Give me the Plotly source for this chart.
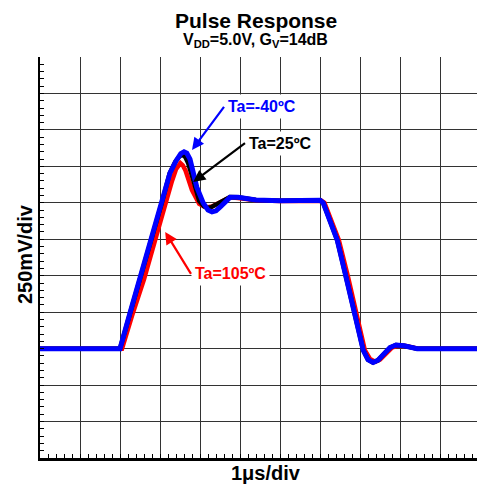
import plotly.graph_objects as go

# Time in divisions (1 µs/div), amplitude in divisions (250 mV/div)
x_m40 = [0, 2.0, 2.25, 2.52, 2.78, 3.05, 3.25, 3.4, 3.52, 3.6, 3.67, 3.75, 3.92, 4.08, 4.2, 4.3, 4.4, 4.5, 4.6, 4.75, 4.95, 5.4, 6.0, 6.5, 7.0, 7.08, 7.43, 7.65, 7.85, 8.08, 8.2, 8.33, 8.45, 8.6, 8.75, 8.9, 9.1, 9.43, 10.0, 11.0]
y_m40 = [3.0, 3.0, 3.98, 4.99, 5.98, 7.0, 7.82, 8.15, 8.35, 8.4, 8.36, 8.2, 7.43, 7.0, 6.8, 6.75, 6.78, 6.88, 7.0, 7.15, 7.15, 7.08, 7.06, 7.06, 7.07, 7.0, 5.98, 4.97, 3.98, 2.96, 2.7, 2.62, 2.68, 2.87, 3.03, 3.1, 3.08, 3.0, 3.0, 3.0]

x_25 = [0, 2.0, 2.25, 2.52, 2.78, 3.04, 3.24, 3.38, 3.49, 3.56, 3.63, 3.7, 3.83, 3.98, 4.1, 4.18, 4.28, 4.4, 4.55, 4.75, 4.95, 5.4, 6.0, 6.5, 7.0, 7.08, 7.43, 7.65, 7.85, 8.08, 8.2, 8.32, 8.45, 8.6, 8.75, 8.9, 9.1, 9.43, 10.0, 11.0]
y_25 = [3.0, 3.0, 3.96, 4.97, 5.96, 6.98, 7.8, 8.12, 8.28, 8.32, 8.26, 8.1, 7.63, 7.05, 6.9, 6.86, 6.88, 6.96, 7.05, 7.16, 7.15, 7.08, 7.06, 7.06, 7.07, 7.0, 5.98, 4.97, 3.98, 2.96, 2.7, 2.62, 2.68, 2.87, 3.03, 3.1, 3.08, 3.0, 3.0, 3.0]

x_105 = [0, 2.05, 2.3, 2.6, 2.88, 3.12, 3.3, 3.4, 3.46, 3.51, 3.57, 3.64, 3.8, 3.98, 4.1, 4.2, 4.3, 4.42, 4.55, 4.75, 4.95, 5.4, 6.0, 6.5, 7.03, 7.11, 7.47, 7.7, 7.9, 8.12, 8.25, 8.38, 8.5, 8.65, 8.8, 8.95, 9.15, 9.45, 10.0, 11.0]
y_105 = [3.0, 3.0, 3.9, 4.9, 5.98, 6.95, 7.6, 7.92, 8.05, 8.09, 8.03, 7.88, 7.35, 6.97, 6.9, 6.88, 6.9, 6.97, 7.04, 7.15, 7.13, 7.07, 7.05, 7.05, 7.06, 7.0, 5.98, 4.97, 3.98, 2.96, 2.72, 2.64, 2.7, 2.88, 3.03, 3.08, 3.07, 3.0, 3.0, 3.0]

FONT = "Liberation Sans"

fig = go.Figure()
for xs, ys, col, w, nm in [(x_105, y_105, "#FF0000", 4.5, "Ta=105ºC"),
                           (x_25, y_25, "#000000", 4.5, "Ta=25ºC"),
                           (x_m40, y_m40, "#0000FF", 5, "Ta=-40ºC")]:
    fig.add_trace(go.Scatter(x=xs, y=ys, mode="lines", name=nm,
                             line=dict(color=col, width=w)))

axis_common = dict(
    dtick=1, tick0=0, showticklabels=False, showgrid=True, gridcolor="#333333", gridwidth=1.4,
    zeroline=False, showline=True, linecolor="black", ticks="inside", ticklen=4, tickcolor="black",
    minor=dict(dtick=0.2, ticks="inside", ticklen=4, tickcolor="black", tickwidth=1, showgrid=False),
    fixedrange=True,
)

fig.update_layout(
    width=477, height=488,
    margin=dict(l=40, r=0, t=57, b=30),
    paper_bgcolor="white", plot_bgcolor="white",
    showlegend=False,
    xaxis=dict(range=[0, 10.925], linewidth=3, **axis_common),
    yaxis=dict(range=[0, 11], linewidth=2, **axis_common),
    font=dict(family=FONT, color="black"),
)

def label(x, y, ax, ay, text, color):
    # text box's left edge sits at the arrow tail (ax, ay)
    fig.add_annotation(x=x, y=y, ax=ax, ay=ay, xref="x", yref="y", axref="x", ayref="y",
                       text=f"<b>{text}</b>", xanchor="left", yanchor="middle",
                       showarrow=True, arrowhead=2, arrowsize=1.1, arrowwidth=2.2, arrowcolor=color,
                       font=dict(family=FONT, size=16, color=color), bgcolor="white", borderpad=3)

label(3.8, 8.45, 4.6, 9.63, "Ta=-40ºC", "#0000FF")
label(3.83, 7.57, 5.125, 8.64, "Ta=25ºC", "#000000")
label(3.13, 6.2, 3.775, 5.05, "Ta=105ºC", "#FF0000")

def paper_text(x, y, text, size, angle=0):
    fig.add_annotation(x=x, y=y, xref="paper", yref="paper", text=text, showarrow=False,
                       xanchor="center", yanchor="middle", textangle=angle,
                       font=dict(family=FONT, size=size, color="black"))

# plot area: x 40..477 px (437 px), y 57..458 px (401 px)
paper_text(0.494, (458 - 20) / 401, "<b>Pulse Response</b>", 21)
paper_text(0.494, (458 - 40) / 401, "<b>V<sub>DD</sub>=5.0V, G<sub>V</sub>=14dB</b>", 16)
paper_text((266 - 40) / 437, (458 - 473) / 401, "<b>1μs/div</b>", 20)
paper_text((25 - 40) / 437, (458 - 254) / 401, "<b>250mV/div</b>", 20, angle=-90)

fig.write_html("out.html", config={"displayModeBar": False},
               post_script="document.body.style.margin='0px';document.body.style.overflow='hidden';")
